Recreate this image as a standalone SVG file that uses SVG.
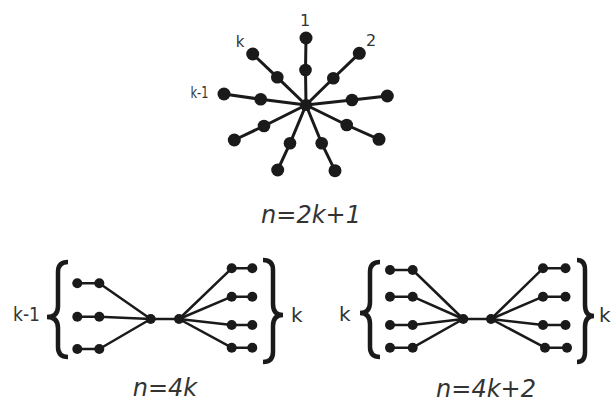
<svg xmlns="http://www.w3.org/2000/svg" width="614" height="403" viewBox="0 0 614 403">
<style>
.e{stroke:#1a1a1a;fill:none;stroke-linecap:round;stroke-linejoin:round}
.s{stroke-width:3}
.b{stroke-width:2.5}
.n{fill:#1a1a1a}
.br{stroke:#1a1a1a;stroke-width:4.5;fill:none;stroke-linecap:butt}
.t{font-family:"DejaVu Sans",sans-serif;fill:#333}
.f{font-family:"DejaVu Sans",sans-serif;font-style:italic;font-size:24px;fill:#333}
</style>
<rect width="614" height="403" fill="#fff"/>
<g id="connectors">
<polyline class="e s" points="306,105 305.5,70 306,38"/>
<polyline class="e s" points="306,105 333.3,78.3 359.3,53.3"/>
<polyline class="e s" points="306,105 352,100 387.3,96"/>
<polyline class="e s" points="306,105 346.7,125 379,139.3"/>
<polyline class="e s" points="306,105 321.7,143.3 335,170.7"/>
<polyline class="e s" points="306,105 290,143.3 277.7,170"/>
<polyline class="e s" points="306,105 264,126 234.3,140"/>
<polyline class="e s" points="306,105 260.7,99.3 224,94"/>
<polyline class="e s" points="306,105 277.3,77.3 252.7,54"/>
<line class="e b" x1="150.7" y1="319" x2="179" y2="319"/>
<polyline class="e b" points="150.7,319 99.3,283.3 77.3,283.3"/>
<polyline class="e b" points="150.7,319 99.3,316.7 77.3,316.7"/>
<polyline class="e b" points="150.7,319 99.3,349 77.3,349"/>
<polyline class="e b" points="179,319 231.7,268.3 252.3,268.3"/>
<polyline class="e b" points="179,319 231.7,296.7 252.3,296.7"/>
<polyline class="e b" points="179,319 231.7,325 252.3,325"/>
<polyline class="e b" points="179,319 231.7,347.7 252.3,347.7"/>
<line class="e b" x1="463.3" y1="319" x2="491" y2="319"/>
<polyline class="e b" points="463.3,319 412.7,270 390,270"/>
<polyline class="e b" points="463.3,319 412.7,296.7 390,296.7"/>
<polyline class="e b" points="463.3,319 412.7,325 390,325"/>
<polyline class="e b" points="463.3,319 412.7,347.7 390,347.7"/>
<polyline class="e b" points="491,319 543,268.3 565.5,268.3"/>
<polyline class="e b" points="491,319 543,296.7 565.5,296.7"/>
<polyline class="e b" points="491,319 543,325 565.5,325"/>
<polyline class="e b" points="491,319 545,347.7 567,347.7"/>
</g>
<g id="star">
<circle class="n" cx="306" cy="105" r="6"/>
<circle class="n" cx="305.5" cy="70" r="6.3"/><circle class="n" cx="306" cy="38" r="6.5"/>
<circle class="n" cx="333.3" cy="78.3" r="6.3"/><circle class="n" cx="359.3" cy="53.3" r="6.5"/>
<circle class="n" cx="352" cy="100" r="6.3"/><circle class="n" cx="387.3" cy="96" r="6.5"/>
<circle class="n" cx="346.7" cy="125" r="6.3"/><circle class="n" cx="379" cy="139.3" r="6.5"/>
<circle class="n" cx="321.7" cy="143.3" r="6.3"/><circle class="n" cx="335" cy="170.7" r="6.5"/>
<circle class="n" cx="290" cy="143.3" r="6.3"/><circle class="n" cx="277.7" cy="170" r="6.5"/>
<circle class="n" cx="264" cy="126" r="6.3"/><circle class="n" cx="234.3" cy="140" r="6.5"/>
<circle class="n" cx="260.7" cy="99.3" r="6.3"/><circle class="n" cx="224" cy="94" r="6.5"/>
<circle class="n" cx="277.3" cy="77.3" r="6.3"/><circle class="n" cx="252.7" cy="54" r="6.5"/>
<text class="t" x="305" y="26" font-size="16" text-anchor="middle">1</text>
<text class="t" x="371" y="46" font-size="16" text-anchor="middle">2</text>
<text class="t" x="240" y="47" font-size="15" text-anchor="middle">k</text>
<text class="t" x="190.5" y="98" font-size="15" textLength="18" lengthAdjust="spacingAndGlyphs">k-1</text>
<text class="f" x="311" y="223" text-anchor="middle">n=2k+1</text>
</g>
<g id="tree-4k">
<path class="br" d="M68,262 Q58,262 58,272 L58,306 Q58,317 47,317 Q58,317 58,328 L58,347 Q58,357 68,357"/>
<path class="br" d="M263,260 Q273,260 273,270 L273,304 Q273,315 283,315 Q273,315 273,326 L273,352 Q273,362 263,362"/>
<circle class="n" cx="77.3" cy="283.3" r="5"/><circle class="n" cx="99.3" cy="283.3" r="5"/>
<circle class="n" cx="77.3" cy="316.7" r="5"/><circle class="n" cx="99.3" cy="316.7" r="5"/>
<circle class="n" cx="77.3" cy="349" r="5"/><circle class="n" cx="99.3" cy="349" r="5"/>
<circle class="n" cx="150.7" cy="319" r="5"/><circle class="n" cx="179" cy="319" r="5"/>
<circle class="n" cx="231.7" cy="268.3" r="5"/><circle class="n" cx="252.3" cy="268.3" r="5"/>
<circle class="n" cx="231.7" cy="296.7" r="5"/><circle class="n" cx="252.3" cy="296.7" r="5"/>
<circle class="n" cx="231.7" cy="325" r="5"/><circle class="n" cx="252.3" cy="325" r="5"/>
<circle class="n" cx="231.7" cy="347.7" r="5"/><circle class="n" cx="252.3" cy="347.7" r="5"/>
<text class="t" x="13" y="321" font-size="20" textLength="27" lengthAdjust="spacingAndGlyphs">k-1</text>
<text class="t" x="291" y="322" font-size="20">k</text>
<text class="f" x="165" y="396" text-anchor="middle">n=4k</text>
</g>
<g id="tree-4k2">
<path class="br" d="M380,262 Q370,262 370,272 L370,302 Q370,313 360,313 Q370,313 370,324 L370,347 Q370,357 380,357"/>
<path class="br" d="M577,260 Q585,260 585,270 L585,305 Q585,316 594,316 Q585,316 585,327 L585,352 Q585,362 577,362"/>
<circle class="n" cx="390" cy="270" r="5"/><circle class="n" cx="412.7" cy="270" r="5"/>
<circle class="n" cx="390" cy="296.7" r="5"/><circle class="n" cx="412.7" cy="296.7" r="5"/>
<circle class="n" cx="390" cy="325" r="5"/><circle class="n" cx="412.7" cy="325" r="5"/>
<circle class="n" cx="390" cy="347.7" r="5"/><circle class="n" cx="412.7" cy="347.7" r="5"/>
<circle class="n" cx="463.3" cy="319" r="5"/><circle class="n" cx="491" cy="319" r="5"/>
<circle class="n" cx="543" cy="268.3" r="5"/><circle class="n" cx="565.5" cy="268.3" r="5"/>
<circle class="n" cx="543" cy="296.7" r="5"/><circle class="n" cx="565.5" cy="296.7" r="5"/>
<circle class="n" cx="543" cy="325" r="5"/><circle class="n" cx="565.5" cy="325" r="5"/>
<circle class="n" cx="545" cy="347.7" r="5"/><circle class="n" cx="567" cy="347.7" r="5"/>
<text class="t" x="339" y="321" font-size="20">k</text>
<text class="t" x="599" y="322" font-size="20">k</text>
<text class="f" x="486" y="397" text-anchor="middle">n=4k+2</text>
</g>
</svg>
